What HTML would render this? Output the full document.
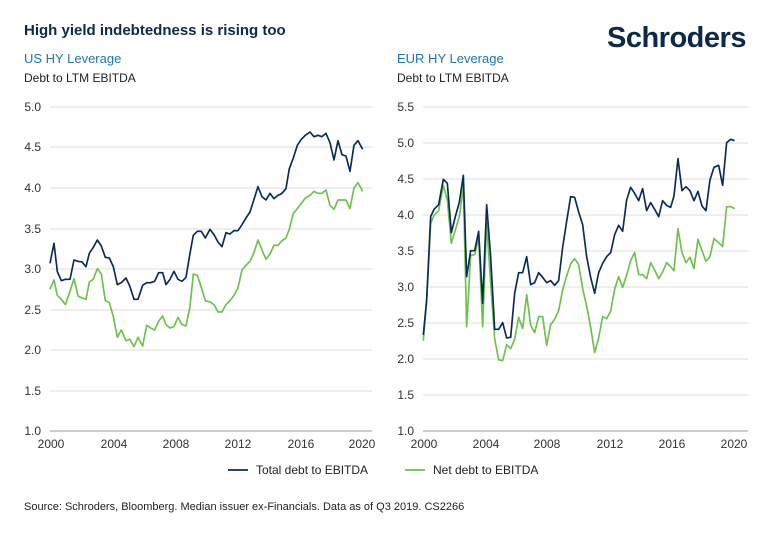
<!DOCTYPE html>
<html><head><meta charset="utf-8"><style>
body{margin:0;background:#fff;width:770px;height:534px;overflow:hidden;font-family:"Liberation Sans",sans-serif}
</style></head><body>
<svg width="770" height="534" xmlns="http://www.w3.org/2000/svg" font-family="Liberation Sans, sans-serif">
<text x="24" y="35" font-size="15" font-weight="bold" fill="#0b2a4a">High yield indebtedness is rising too</text>
<text x="607" y="47" font-size="29" font-weight="bold" fill="#0b2a4a" letter-spacing="-0.5">Schroders</text>
<text x="24" y="63" font-size="13" fill="#1b75bb">US HY Leverage</text>
<text x="24" y="82" font-size="12" fill="#222">Debt to LTM EBITDA</text>
<text x="397" y="63" font-size="13" fill="#1b75bb">EUR HY Leverage</text>
<text x="397" y="82" font-size="12" fill="#222">Debt to LTM EBITDA</text>
<g stroke="#dcdcdc" stroke-width="1">
<line x1="50" x2="372" y1="107" y2="107"/><line x1="50" x2="372" y1="147" y2="147"/><line x1="50" x2="372" y1="188" y2="188"/><line x1="50" x2="372" y1="229" y2="229"/><line x1="50" x2="372" y1="269" y2="269"/><line x1="50" x2="372" y1="310" y2="310"/><line x1="50" x2="372" y1="350" y2="350"/><line x1="50" x2="372" y1="391" y2="391"/>
<line x1="423" x2="748" y1="107" y2="107"/><line x1="423" x2="748" y1="143" y2="143"/><line x1="423" x2="748" y1="179" y2="179"/><line x1="423" x2="748" y1="215" y2="215"/><line x1="423" x2="748" y1="251" y2="251"/><line x1="423" x2="748" y1="287" y2="287"/><line x1="423" x2="748" y1="323" y2="323"/><line x1="423" x2="748" y1="359" y2="359"/><line x1="423" x2="748" y1="395" y2="395"/>
</g>
<line x1="50" x2="372" y1="431" y2="431" stroke="#999"/>
<line x1="423" x2="748" y1="431" y2="431" stroke="#999"/>
<g font-size="12" fill="#333" text-anchor="end">
<text x="41" y="111">5.0</text><text x="41" y="151">4.5</text><text x="41" y="192">4.0</text><text x="41" y="233">3.5</text><text x="41" y="273">3.0</text><text x="41" y="314">2.5</text><text x="41" y="354">2.0</text><text x="41" y="395">1.5</text><text x="41" y="435">1.0</text>
<text x="414" y="111">5.5</text><text x="414" y="147">5.0</text><text x="414" y="183">4.5</text><text x="414" y="219">4.0</text><text x="414" y="255">3.5</text><text x="414" y="291">3.0</text><text x="414" y="327">2.5</text><text x="414" y="363">2.0</text><text x="414" y="399">1.5</text><text x="414" y="435">1.0</text>
</g>
<g font-size="12" fill="#333" text-anchor="middle">
<text x="51" y="448">2000</text><text x="114" y="448">2004</text><text x="176" y="448">2008</text><text x="238" y="448">2012</text><text x="301" y="448">2016</text><text x="362" y="448">2020</text>
<text x="424" y="448">2000</text><text x="486" y="448">2004</text><text x="547" y="448">2008</text><text x="610" y="448">2012</text><text x="672" y="448">2016</text><text x="734" y="448">2020</text>
</g>
<g transform="translate(20,90) scale(0.3333)" fill="none" stroke-width="5" stroke-linejoin="round">
<polyline stroke="#6cc24a" points="90,598 102,570 112,616 124,628 136,644 150,604 162,566 174,618 186,624 198,628 208,576 220,568 232,536 244,552 256,632 268,638 280,680 292,742 304,720 318,752 330,748 342,770 354,742 368,768 380,706 392,714 404,720 416,694 428,678 438,704 450,714 462,710 474,682 486,704 498,708 510,650 520,552 532,556 544,592 556,632 570,636 582,644 594,666 606,666 618,644 630,632 642,616 654,594 666,540 678,526 690,514 702,488 714,450 726,480 738,508 750,492 762,466 774,466 786,452 798,444 808,418 820,370 832,356 844,340 856,324 870,316 882,304 894,310 906,310 918,300 930,346 942,358 954,330 966,330 978,330 990,356 1002,294 1014,278 1028,304"/>
<polyline stroke="#0b2a5a" points="90,520 102,460 112,545 124,572 136,568 150,568 162,510 174,514 186,516 198,530 208,490 220,472 232,450 244,468 256,502 268,504 280,530 292,584 304,578 318,564 330,590 342,628 354,628 368,586 380,578 392,578 404,574 416,548 428,548 438,584 450,568 462,544 474,568 486,574 498,562 510,490 520,436 532,424 544,424 556,444 570,418 582,434 594,456 606,470 618,428 630,432 642,422 654,422 666,404 678,384 690,366 702,328 714,290 726,320 738,330 750,310 762,326 774,316 786,310 798,296 808,236 820,204 832,166 844,148 856,136 870,126 882,140 894,136 906,140 918,130 930,158 942,210 954,152 966,194 978,198 990,244 1002,166 1014,152 1028,178"/>
</g>
<g transform="translate(390,90) scale(0.3333)" fill="none" stroke-width="5" stroke-linejoin="round">
<polyline stroke="#6cc24a" points="100,752 110,630 122,400 132,376 146,362 160,286 172,330 184,460 196,420 208,380 220,288 230,710 242,496 254,494 266,444 278,710 290,398 302,580 314,746 326,810 338,812 350,764 362,776 374,748 386,682 398,716 410,614 422,706 434,728 446,680 458,680 470,766 482,704 494,688 506,662 518,600 530,558 542,522 554,506 566,524 578,596 590,648 602,712 614,788 626,744 638,680 650,686 662,664 674,598 686,560 698,592 710,556 722,512 734,488 746,554 758,554 770,566 782,518 794,540 806,566 818,546 830,518 842,530 852,542 864,416 876,488 888,518 900,502 912,536 924,448 936,482 948,514 960,500 972,446 986,458 998,470 1010,350 1022,350 1034,356"/>
<polyline stroke="#0b2a5a" points="100,735 110,630 122,380 132,358 146,344 160,268 172,280 184,428 196,380 208,336 220,256 230,560 242,482 254,482 266,424 278,640 290,344 302,500 314,718 326,718 338,698 350,744 362,742 374,610 386,548 398,548 410,500 422,584 434,578 446,548 458,562 470,578 482,572 494,586 506,572 518,472 530,394 542,320 554,322 566,366 578,404 590,500 602,562 614,610 626,548 638,520 650,500 662,488 674,434 686,406 698,424 710,330 722,292 734,310 746,332 758,296 770,362 782,338 794,358 806,380 818,332 830,346 842,352 852,318 864,206 876,302 888,290 900,302 912,332 924,304 936,348 948,362 960,270 972,232 986,226 998,286 1010,158 1022,148 1034,152"/>
</g>
<line x1="228" x2="248" y1="470" y2="470" stroke="#0b2a5a" stroke-width="1.7"/>
<text x="256" y="474" font-size="12" fill="#222">Total debt to EBITDA</text>
<line x1="405" x2="425" y1="470" y2="470" stroke="#6cc24a" stroke-width="1.7"/>
<text x="433" y="474" font-size="12" fill="#222">Net debt to EBITDA</text>
<text x="24" y="510" font-size="11" fill="#222">Source: Schroders, Bloomberg. Median issuer ex-Financials. Data as of Q3 2019. CS2266</text>
</svg>
</body></html>
